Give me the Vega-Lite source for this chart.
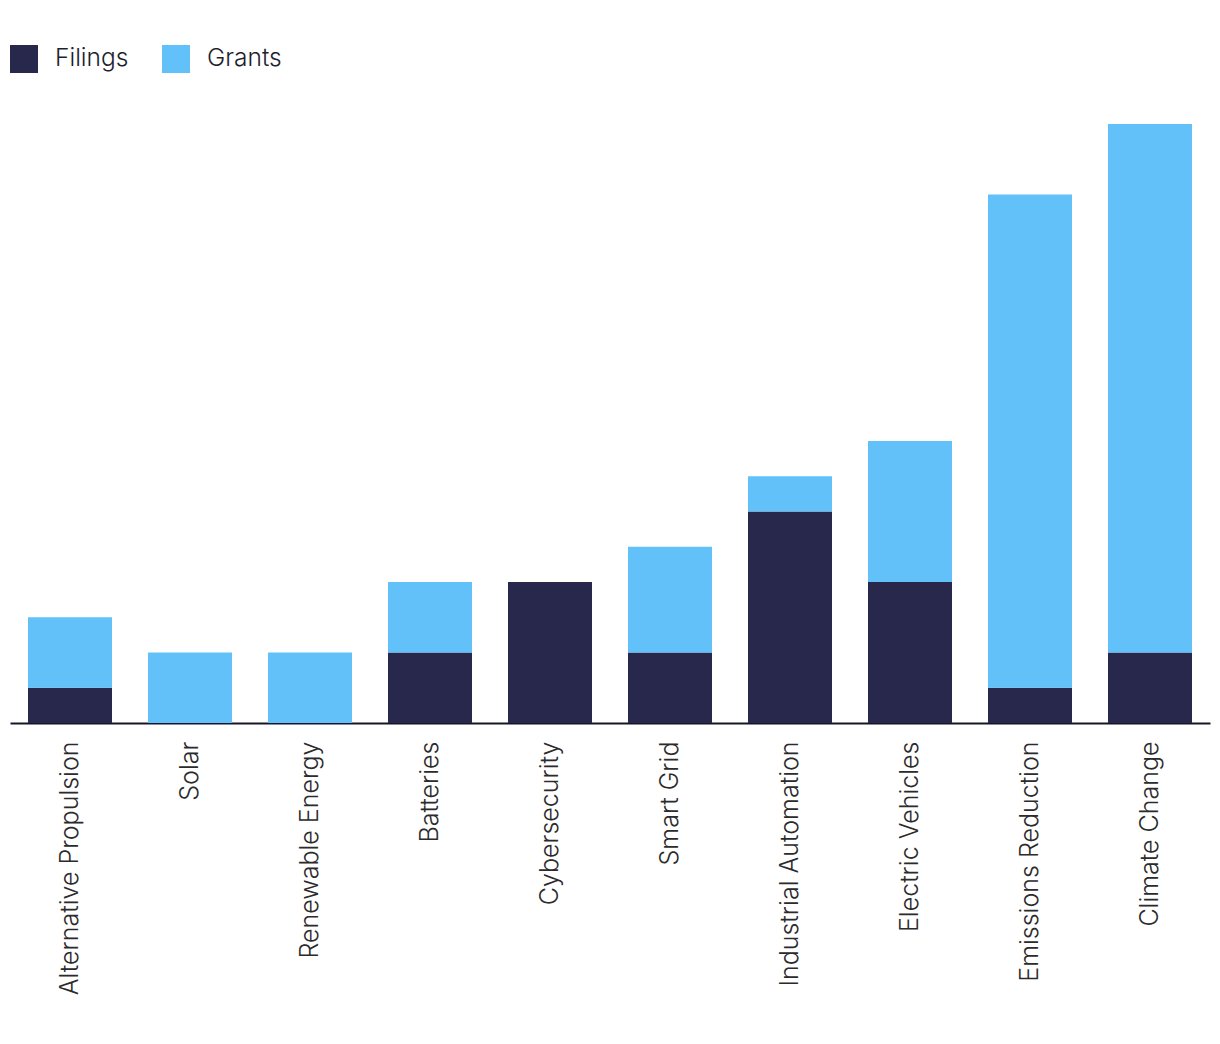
{
  "$schema": "https://vega.github.io/schema/vega-lite/v6.json",
  "width": 1200,
  "height": 599,
  "autosize": {"type": "none"},
  "padding": {"left": 10, "top": 124, "right": 10, "bottom": 321},
  "background": "white",
  "config": {"view": {"stroke": null}, "font": "Inter"},
  "data": {"values": [
    {"category": "Alternative Propulsion", "type": "Filings", "value": 1},
    {"category": "Alternative Propulsion", "type": "Grants", "value": 2},
    {"category": "Solar", "type": "Filings", "value": 0},
    {"category": "Solar", "type": "Grants", "value": 2},
    {"category": "Renewable Energy", "type": "Filings", "value": 0},
    {"category": "Renewable Energy", "type": "Grants", "value": 2},
    {"category": "Batteries", "type": "Filings", "value": 2},
    {"category": "Batteries", "type": "Grants", "value": 2},
    {"category": "Cybersecurity", "type": "Filings", "value": 4},
    {"category": "Cybersecurity", "type": "Grants", "value": 0},
    {"category": "Smart Grid", "type": "Filings", "value": 2},
    {"category": "Smart Grid", "type": "Grants", "value": 3},
    {"category": "Industrial Automation", "type": "Filings", "value": 6},
    {"category": "Industrial Automation", "type": "Grants", "value": 1},
    {"category": "Electric Vehicles", "type": "Filings", "value": 4},
    {"category": "Electric Vehicles", "type": "Grants", "value": 4},
    {"category": "Emissions Reduction", "type": "Filings", "value": 1},
    {"category": "Emissions Reduction", "type": "Grants", "value": 14},
    {"category": "Climate Change", "type": "Filings", "value": 2},
    {"category": "Climate Change", "type": "Grants", "value": 15}
  ]},
  "mark": {"type": "bar"},
  "encoding": {
    "x": {
      "field": "category",
      "type": "nominal",
      "sort": null,
      "scale": {"paddingInner": 0.3, "paddingOuter": 0.15},
      "axis": {
        "title": null,
        "labelAngle": -90,
        "labelFontSize": 25,
        "labelColor": "#2b2b2b",
        "labelPadding": 18,
        "labelLimit": 0,
        "ticks": false,
        "domainColor": "#161629",
        "domainWidth": 2,
        "labelFont": "Inter",
        "labelFontWeight": 300
      }
    },
    "y": {
      "field": "value",
      "type": "quantitative",
      "stack": "zero",
      "scale": {"domain": [0, 17], "nice": false},
      "axis": null
    },
    "color": {
      "field": "type",
      "type": "nominal",
      "scale": {"domain": ["Filings", "Grants"], "range": ["#27284b", "#62c1f8"]},
      "legend": {
        "title": null,
        "orient": "none",
        "legendX": 0,
        "legendY": -79,
        "direction": "horizontal",
        "symbolType": "square",
        "symbolSize": 784,
        "symbolStrokeWidth": 0,
        "labelFontSize": 24.5,
        "labelFontWeight": 300,
        "labelColor": "#1e1e2e",
        "labelOffset": 17,
        "columnPadding": 33,
        "labelFont": "Inter"
      }
    },
    "order": {"field": "type", "sort": "ascending"}
  }
}
